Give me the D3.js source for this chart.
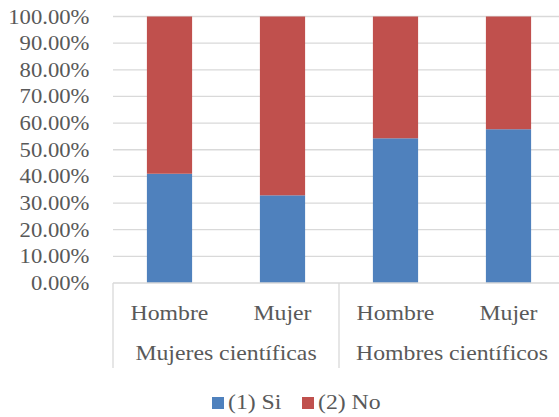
<!DOCTYPE html>
<html>
<head>
<meta charset="utf-8">
<script src="https://cdn.jsdelivr.net/npm/d3@7"></script>
<style>
  html, body { margin: 0; padding: 0; background: #fff; }
  svg { display: block; }
</style>
</head>
<body>
<svg id="chart" width="559" height="417"></svg>
<script>
// Categories: inner label (sex) and outer group
const groups = ["Mujeres científicas", "Hombres científicos"];
const categories = ["Mujeres científicas|Hombre", "Mujeres científicas|Mujer",
                    "Hombres científicos|Hombre", "Hombres científicos|Mujer"];
// Share answering each option (percent)
const siValues = [41.0, 32.9, 54.3, 57.7];
const noValues = [59.0, 67.1, 45.7, 42.3];
const seriesNames = ["(1) Si", "(2) No"];
const colors = ["#4f81bd", "#c0504d"];
const yTicks = [0, 10, 20, 30, 40, 50, 60, 70, 80, 90, 100];

const FONT = "'Liberation Serif', 'Times New Roman', serif";
const TEXT = "#595959";
const STRETCH = 1.08; // labels are set slightly wide

const svg = d3.select("#chart");
const margin = { left: 113, top: 16.5, bottom: 283, right: 565 };

const x = d3.scaleBand().domain(categories).range([margin.left, margin.right])
  .paddingInner(0.6).paddingOuter(0.3);
const y = d3.scaleLinear().domain([0, 100]).range([margin.bottom, margin.top]);

function label(g, px, py, txt, size, anchor) {
  return g.append("text")
    .attr("transform", `translate(${px},${py}) scale(${STRETCH},1)`)
    .attr("text-anchor", anchor)
    .attr("font-family", FONT)
    .attr("font-size", size)
    .attr("fill", TEXT)
    .text(txt);
}

// gridlines
svg.append("g").selectAll("line").data(yTicks.slice(1)).join("line")
  .attr("x1", margin.left).attr("x2", 559)
  .attr("y1", d => y(d)).attr("y2", d => y(d))
  .attr("stroke", "#d9d9d9").attr("stroke-width", 1.3);

// y-axis labels
const fmt = d => d3.format(".2f")(d) + "%";
const ya = svg.append("g");
yTicks.forEach(t => label(ya, 89.5, y(t) + 7, fmt(t), 21, "end"));

// stacked bars
const rows = categories.map((c, i) => ({ cat: c, si: siValues[i], no: noValues[i] }));
const stack = d3.stack().keys(["si", "no"])(rows);
svg.append("g").selectAll("g").data(stack).join("g")
  .attr("fill", (d, i) => colors[i])
  .selectAll("rect").data(d => d).join("rect")
  .attr("x", d => x(d.data.cat))
  .attr("width", x.bandwidth())
  .attr("y", d => y(d[1]))
  .attr("height", d => y(d[0]) - y(d[1]));

// category axis line and separators
const step = x.step();
const axisG = svg.append("g").attr("stroke", "#d9d9d9").attr("stroke-width", 1.3);
axisG.append("line").attr("x1", margin.left).attr("x2", 559)
  .attr("y1", y(0)).attr("y2", y(0));
[margin.left, margin.left + 2 * step, margin.left + 4 * step].forEach(px => {
  axisG.append("line").attr("x1", px).attr("x2", px)
    .attr("y1", y(0)).attr("y2", 368);
});

// inner category labels
const inner = svg.append("g");
categories.forEach(c => label(inner, x(c) + x.bandwidth() / 2, 320, c.split("|")[1], 22, "middle"));

// outer group labels
const outer = svg.append("g");
groups.forEach((g, i) => label(outer, margin.left + step * (2 * i + 1), 360, g, 22, "middle"));

// legend
const legend = svg.append("g");
const legendX = [212, 302];
seriesNames.forEach((name, i) => {
  legend.append("rect").attr("x", legendX[i]).attr("y", 397)
    .attr("width", 12).attr("height", 12).attr("fill", colors[i]);
  label(legend, legendX[i] + 16, 409, name, 22, "start");
});
</script>
</body>
</html>
